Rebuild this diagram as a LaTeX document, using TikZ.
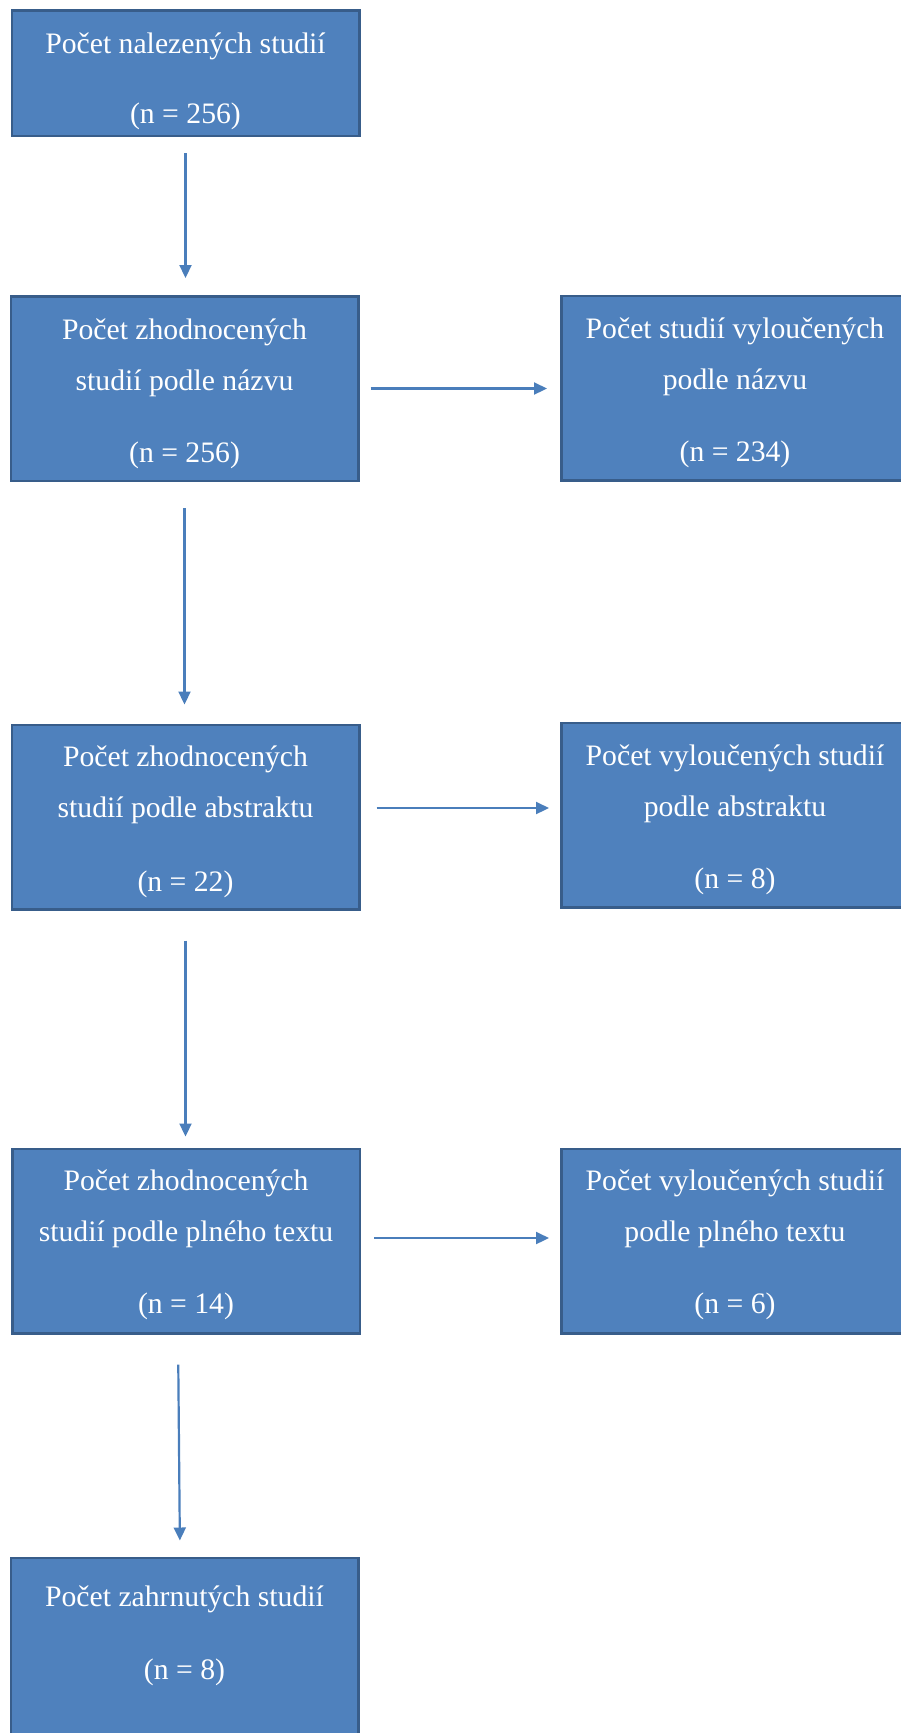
\documentclass[tikz,border=0pt]{standalone}
\usepackage{fontspec}
\setmainfont{Liberation Serif}
\usetikzlibrary{arrows.meta}
\definecolor{boxfill}{HTML}{4F81BD}
\definecolor{boxline}{HTML}{385D8A}
\definecolor{arrowc}{HTML}{4A7EBB}
\newcommand{\topgap}[1]{\mbox{}\\[#1]}
\begin{document}
\begin{tikzpicture}[x=1pt,y=-1pt,
  box/.style={draw=boxline, line width=2.5pt, fill=boxfill, text=white,
    align=center, inner sep=0pt, minimum width=347.5pt, minimum height=184.5pt,
    font=\fontsize{29.7}{51}\selectfont},
  arr/.style={draw=arrowc, line width=2.2pt, -{Triangle[length=13pt,width=12pt]}}]
\useasboundingbox (0,0) rectangle (901,1733);

\node[box, minimum height=125.5pt] (A) at (185.5,73) {\topgap{-14.5pt}Počet nalezených studií\\[19pt](n = 256)};
\node[box] (B) at (184.5,388.5) {\topgap{-20.5pt}Počet zhodnocených\\studií podle názvu\\[21pt](n = 256)};
\node[box] (C) at (735,388) {\topgap{-20.5pt}Počet studií vyloučených\\podle názvu\\[21pt](n = 234)};
\node[box] (D) at (185.5,817) {\topgap{-20.5pt}Počet zhodnocených\\studií podle abstraktu\\[23pt](n = 22)};
\node[box] (E) at (735,815) {\topgap{-20.5pt}Počet vyloučených studií\\podle abstraktu\\[21pt](n = 8)};
\node[box] (F) at (186,1241) {\topgap{-22.5pt}Počet zhodnocených\\studií podle plného textu\\[21pt](n = 14)};
\node[box] (G) at (735,1241) {\topgap{-22.5pt}Počet vyloučených studií\\podle plného textu\\[21pt](n = 6)};
\node[box] (H) at (184.5,1650) {Počet zahrnutých studií\\[22pt](n = 8)\\[-15.6pt]\mbox{}};

\draw[arr, shorten <=16pt, shorten >=17pt] (A.south) -- (A.south |- B.north);
\draw[arr, shorten <=26pt, shorten >=19pt] (B.south) -- (B.south |- D.north);
\draw[arr, shorten <=30pt, shorten >=11pt] (D.south) -- (D.south |- F.north);
\draw[arr, shorten <=30pt, shorten >=16pt] ([xshift=-8pt]F.south) -- ([xshift=-4.5pt]H.north);

\draw[arr, shorten <=11pt, shorten >=13pt] (B.east) -- (B.east -| C.west);
\draw[arr, shorten <=16pt, shorten >=11pt] ([yshift=9pt]D.east) -- ([yshift=7pt]E.west);
\draw[arr, shorten <=13pt, shorten >=11pt] ([yshift=3pt]F.east) -- ([yshift=3pt]G.west);
\end{tikzpicture}
\end{document}
